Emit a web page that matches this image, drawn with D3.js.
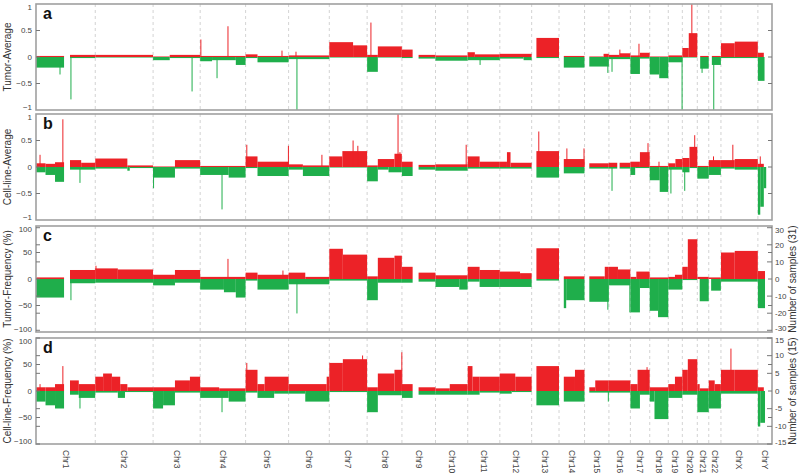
<!DOCTYPE html>
<html><head><meta charset="utf-8">
<script src="https://cdn.jsdelivr.net/npm/d3@7"></script>
<style>body{margin:0;background:#fff}svg{display:block;font-family:Arial,"Liberation Sans",sans-serif}</style>
</head><body><svg id="c" width="800" height="476"></svg>
<script>
// ---------- DATA ----------
const chromosomes = ["Chr1","Chr2","Chr3","Chr4","Chr5","Chr6","Chr7","Chr8","Chr9","Chr10","Chr11","Chr12","Chr13","Chr14","Chr15","Chr16","Chr17","Chr18","Chr19","Chr20","Chr21","Chr22","ChrX","ChrY"];
const chromLengthMb = [249.25,243.2,198.0,191.2,180.9,171.1,159.1,146.4,141.2,135.5,135.0,133.9,115.2,107.3,102.5,90.4,81.2,78.1,59.1,63.0,48.1,51.3,155.3,59.4];

// segments per chromosome: [startMb, endMb, value]
const tumorAvgGain = [
 [[0,118,0.02],[143,249,0.04]],[[0,243,0.04]],[[0,70,0.01],[70,198,0.04]],[[0,191,0.02]],
 [[0,50,0.05],[50,181,0.02]],[[0,171,0.03]],[[0,100,0.28],[100,159,0.22]],[[0,45,0.04],[45,146,0.2]],
 [[0,45,0.14],[70,141,0.04]],[[0,135,0.03]],[[0,30,0.09],[30,135,0.05]],[[0,134,0.06]],
 [[20,115,0.36]],[[20,107,0.02]],[[20,80,0.01],[80,102,0.06]],[[0,45,0.04],[45,90,0.07]],
 [[0,40,0.03],[40,81,0.08]],[[0,78,0.01]],[[0,59,0.03]],[[0,27,0.17],[27,63,0.45]],
 [[12,48,0.02]],[[13,51,0.02]],[[0,58,0.26],[58,155,0.29]],[[0,25,0.08]]];
const tumorAvgLoss = [
 [[0,118,-0.2],[143,249,-0.02]],[[0,243,-0.01]],[[0,70,-0.06],[70,198,-0.02]],[[0,50,-0.08],[50,150,-0.06],[150,191,-0.15]],
 [[0,50,-0.02],[50,181,-0.1]],[[0,171,-0.04]],[[0,159,-0.01]],[[0,45,-0.28],[45,146,-0.01]],
 [[0,45,-0.02],[70,141,-0.03]],[[0,135,-0.07]],[[0,135,-0.06]],[[0,100,-0.03],[100,134,-0.06]],
 [[20,115,-0.02]],[[20,107,-0.2]],[[20,102,-0.18]],[[0,90,-0.04]],
 [[0,40,-0.32],[40,81,-0.03]],[[0,40,-0.33],[40,78,-0.4]],[[0,59,-0.1]],[[0,63,-0.01]],
 [[12,48,-0.22]],[[13,51,-0.15]],[[0,155,-0.02]],[[0,28,-0.45]]];
const tumorAvgSpikes = [[0,147,-0.8],[0,101,-0.33],[2,164,-0.65],[3,3,0.33],[3,117,0.58],[3,71,-0.4],[4,153,0.12],
 [5,35,-1.0],[5,31,0.1],[7,16,0.65],[10,52,-0.15],[14,98,-0.3],[15,46,0.14],[15,13,-0.28],[16,36,0.25],[18,58,-1.0],[19,40,1.0],[21,21,-1.0],[20,20,-0.3]];

const cellAvgGain = [
 [[0,40,0.07],[40,80,0.06],[80,118,0.09],[143,190,0.13],[190,249,0.08]],[[0,135,0.16],[135,243,0.03]],[[0,92,0.01],[92,198,0.13]],[[0,191,0.02]],
 [[0,50,0.2],[50,181,0.1]],[[0,60,0.05],[60,171,0.03]],[[0,55,0.2],[55,159,0.3]],[[0,45,0.03],[45,115,0.15],[115,146,0.25]],
 [[0,45,0.1],[70,141,0.04]],[[0,135,0.05]],[[0,50,0.2],[50,135,0.1]],[[0,30,0.1],[30,45,0.28],[45,134,0.08]],
 [[20,115,0.3]],[[20,107,0.15]],[[20,102,0.07]],[[0,35,0.08],[45,90,0.08]],
 [[0,40,0.1],[40,81,0.28]],[[0,78,0.02]],[[0,30,0.07],[30,59,0.15]],[[0,30,0.17],[30,63,0.38]],
 [[0,48,0.02]],[[0,51,0.13]],[[0,58,0.13],[58,155,0.15]],[[0,25,0.06]]];
const cellAvgLoss = [
 [[0,40,-0.1],[40,80,-0.15],[80,118,-0.28],[143,249,-0.05]],[[0,135,-0.03],[135,145,-0.07],[145,243,-0.02]],[[0,92,-0.2],[92,198,-0.03]],[[0,120,-0.15],[120,191,-0.2]],
 [[0,50,-0.02],[50,181,-0.17]],[[0,60,-0.05],[60,171,-0.17]],[[0,159,-0.01]],[[0,45,-0.27],[45,90,-0.05],[90,146,-0.1]],
 [[0,45,-0.17],[70,141,-0.05]],[[0,135,-0.07]],[[0,135,-0.03]],[[0,134,-0.03]],
 [[20,115,-0.2]],[[20,107,-0.12]],[[20,102,-0.03]],[[0,35,-0.03],[45,90,-0.03]],
 [[0,20,-0.15],[20,81,-0.02]],[[0,42,-0.25],[42,78,-0.47]],[[0,59,-0.05]],[[0,30,-0.1],[30,63,-0.02]],
 [[0,48,-0.22]],[[0,51,-0.15]],[[0,58,-0.03],[58,155,-0.05]],[[0,10,-0.9],[10,25,-0.75],[25,35,-0.4]]];
const cellAvgSpikes = [[0,17,0.23],[0,113,0.9],[0,185,-0.3],[2,2,-0.4],[3,92,-0.8],[4,5,0.42],[4,180,0.4],[5,140,0.23],
 [6,100,0.5],[6,120,0.4],[7,130,1.0],[7,138,0.28],[9,129,0.42],[12,30,0.67],[13,33,0.35],[13,105,0.35],[15,13,-0.45],
 [16,74,0.45],[17,39,0.1],[18,11,-0.5],[19,52,0.6],[19,10,-0.45],[21,20,0.2],[22,50,0.42],[23,10,0.2]];

const tumorFreqGain = [
 [[0,118,3],[143,249,17]],[[0,95,20],[95,243,18]],[[0,92,8],[92,198,17]],[[0,191,4]],
 [[0,50,12],[50,181,8]],[[0,70,12],[70,171,4]],[[0,57,57],[57,159,46]],[[0,45,5],[45,115,40],[115,146,44]],
 [[0,45,23],[70,141,12]],[[0,135,7]],[[0,50,23],[50,135,17]],[[0,85,14],[85,134,11]],
 [[20,115,58]],[[20,107,5]],[[20,85,5],[85,102,23]],[[0,38,23],[38,90,18]],
 [[0,25,4],[25,81,14]],[[0,78,3]],[[0,28,4],[28,59,8]],[[0,23,23],[23,63,75]],
 [[0,48,4]],[[0,51,3]],[[0,58,50],[58,155,53]],[[0,30,15]]];
const tumorFreqLoss = [
 [[0,118,-35],[143,249,-8]],[[0,243,-7]],[[0,92,-12],[92,198,-7]],[[0,100,-20],[100,150,-25],[150,191,-35]],
 [[0,50,-3],[50,181,-20]],[[0,171,-10]],[[0,159,-3]],[[0,45,-40],[45,146,-7]],
 [[0,45,-7],[70,141,-5]],[[0,100,-15],[100,135,-20]],[[0,50,-5],[50,135,-15]],[[0,134,-15]],
 [[20,115,-3]],[[20,30,-55],[30,107,-40]],[[20,102,-43]],[[0,90,-12]],
 [[0,40,-63],[40,81,-17]],[[0,35,-60],[35,78,-72]],[[0,59,-20]],[[0,63,-2]],
 [[10,48,-42]],[[10,51,-22]],[[0,155,-5]],[[0,30,-55]]];
const tumorFreqSpikes = [[0,147,-40],[1,3,25],[3,117,38],[4,157,16],[5,35,-65],[14,98,-58],[15,88,-63]];

const cellFreqGain = [
 [[0,40,7],[40,80,7],[80,118,13],[143,180,20],[180,249,13]],[[0,33,27],[33,70,33],[70,105,27],[105,135,13],[135,243,7]],[[0,92,7],[92,155,20],[155,198,27]],[[0,80,7],[80,191,5]],
 [[0,50,40],[50,80,13],[80,181,27]],[[0,160,13],[160,171,27]],[[0,57,53],[57,159,60]],[[0,45,7],[45,115,33],[115,146,40]],
 [[0,45,13],[70,141,7]],[[0,60,5],[60,135,13]],[[0,20,47],[20,50,27],[50,135,27]],[[0,65,33],[65,134,27]],
 [[20,115,47]],[[20,67,27],[67,107,40]],[[20,45,7],[45,102,20]],[[0,90,20]],
 [[0,30,13],[30,81,40]],[[0,78,7]],[[0,28,13],[28,59,27]],[[0,23,40],[23,63,60]],
 [[0,10,13],[10,48,5]],[[0,25,20],[25,51,13]],[[0,58,40],[58,155,40]],[[0,25,7]]];
const cellFreqLoss = [
 [[0,40,-20],[40,80,-27],[80,118,-33],[143,180,-7],[180,249,-13]],[[0,95,-3],[95,125,-13],[125,243,-2]],[[0,42,-33],[42,92,-27],[92,198,-3]],[[0,120,-13],[120,191,-20]],
 [[0,50,-3],[50,120,-13],[120,181,-5]],[[0,70,-5],[70,171,-20]],[[0,159,-2]],[[0,45,-40],[45,146,-8]],
 [[0,45,-13],[70,141,-7]],[[0,135,-7]],[[0,50,-7],[50,135,-3]],[[0,50,-5],[50,134,-2]],
 [[20,115,-27]],[[20,107,-20]],[[20,102,-3]],[[0,90,-3]],
 [[0,40,-33],[40,81,-7]],[[0,20,-20],[20,78,-53]],[[0,59,-13]],[[0,63,-7]],
 [[0,48,-40]],[[0,51,-33]],[[0,155,-5]],[[0,10,-67],[10,30,-60]]];
const cellFreqSpikes = [[0,17,13],[0,113,47],[0,185,-33],[3,92,-40],[4,5,53],[6,140,67],[7,146,73],[14,100,-20],[22,42,80],[16,70,45]];

const panelLetters = ["a","b","c","d"];
const panelTitles = ["Tumor-Average","Cell-line-Average","Tumor-Frequency (%)","Cell-line-Frequency (%)"];
const leftTicksAvg = [-1,-0.5,0,0.5,1];
const leftTicksFreq = [-100,-50,0,50,100];
const rightSampleCounts = [null,null,31,15];
const rightTicksC = [-30,-20,-10,0,10,20,30];
const rightTicksD = [-15,-10,-5,0,5,10,15];

// ---------- DRAW ----------
const RED="#ec2227", GREEN="#1fae4b";
const svg = d3.select("#c");
const L=36, R=772;
const offsets = d3.cumsum([0].concat(chromLengthMb));
const total = offsets[offsets.length-1];
const x = d3.scaleLinear().domain([0,total]).range([L,R]);
const tops = [4,114,226,338], H=106;

const panels = [
 {gain:tumorAvgGain, loss:tumorAvgLoss, spikes:tumorAvgSpikes, dom:1, ticks:leftTicksAvg},
 {gain:cellAvgGain, loss:cellAvgLoss, spikes:cellAvgSpikes, dom:1, ticks:leftTicksAvg},
 {gain:tumorFreqGain, loss:tumorFreqLoss, spikes:tumorFreqSpikes, dom:100, ticks:leftTicksFreq, rticks:rightTicksC},
 {gain:cellFreqGain, loss:cellFreqLoss, spikes:cellFreqSpikes, dom:100, ticks:leftTicksFreq, rticks:rightTicksD}
];

panels.forEach((p,i)=>{
  const top=tops[i], bot=top+H;
  const y = d3.scaleLinear().domain([-p.dom,p.dom]).range([bot,top]);
  const g = svg.append("g");
  g.selectAll("line.sep").data(offsets.slice(1,-1)).join("line")
    .attr("x1",d=>x(d)).attr("x2",d=>x(d)).attr("y1",top).attr("y2",bot)
    .attr("stroke","#c8c8c8").attr("stroke-width",0.8).attr("stroke-dasharray","3,3");
  const segs = (arr)=>arr.flatMap((c,ci)=>c.map(s=>({s:offsets[ci]+s[0], e:offsets[ci]+Math.min(s[1],chromLengthMb[ci]), v:s[2]})));
  [[p.gain,RED],[p.loss,GREEN]].forEach(([arr,col])=>{
    g.selectAll(null).data(segs(arr)).join("rect")
      .attr("x",d=>x(d.s)).attr("width",d=>Math.max(0.5,x(d.e)-x(d.s)))
      .attr("y",d=>Math.min(y(d.v),y(0))).attr("height",d=>Math.abs(y(d.v)-y(0)))
      .attr("fill",col);
  });
  g.selectAll(null).data(p.spikes).join("line")
    .attr("x1",d=>x(offsets[d[0]]+d[1])).attr("x2",d=>x(offsets[d[0]]+d[1]))
    .attr("y1",y(0)).attr("y2",d=>y(d[2]))
    .attr("stroke",d=>d[2]>0?RED:GREEN).attr("stroke-width",1);
  g.append("rect").attr("x",L).attr("y",top).attr("width",R-L).attr("height",H)
    .attr("fill","none").attr("stroke","#a0a0a0").attr("stroke-width",1.6);
  const yl = p.ticks;
  g.selectAll(null).data(yl.slice(1,-1)).join("line")
    .attr("x1",L).attr("x2",L+4).attr("y1",d=>y(d)).attr("y2",d=>y(d)).attr("stroke","#777");
  g.selectAll(null).data(yl.slice(1,-1)).join("line")
    .attr("x1",R-4).attr("x2",R).attr("y1",d=>y(d)).attr("y2",d=>y(d)).attr("stroke","#777");
  g.selectAll(null).data(yl).join("text")
    .attr("x",L-4).attr("y",d=>y(d)+(d===p.dom?3:d===-p.dom?-3:0)).attr("dy","0.35em").attr("text-anchor","end")
    .attr("font-size",8).attr("fill","#444").text(d=>d3.format("")(d));
  if(p.rticks){
    const n=rightSampleCounts[i];
    const yr = d3.scaleLinear().domain([-n,n]).range([bot,top]);
    g.selectAll(null).data(p.rticks.filter(d=>d!==0)).join("line")
      .attr("x1",R-5).attr("x2",R).attr("y1",d=>yr(d)).attr("y2",d=>yr(d)).attr("stroke","#777");
    g.selectAll(null).data(p.rticks.filter(d=>d!==0)).join("line")
      .attr("x1",L).attr("x2",L+4).attr("y1",d=>yr(d)).attr("y2",d=>yr(d)).attr("stroke","#777");
    const rmax = d3.max(p.rticks);
    g.selectAll(null).data(p.rticks).join("text")
      .attr("x",R+3).attr("y",d=>yr(d)+(d===rmax?2:d===-rmax?-2:0)).attr("dy","0.35em").attr("text-anchor","start")
      .attr("font-size",8).attr("fill","#444").text(d=>d);
    g.append("text").attr("transform",`translate(792,${(top+bot)/2}) rotate(-90)`)
      .attr("text-anchor","middle").attr("dy","0.35em").attr("font-size",10).attr("fill","#333")
      .text(`Number of samples (${n})`);
  }
  g.append("text").attr("transform",`translate(7,${(top+bot)/2}) rotate(-90)`)
    .attr("text-anchor","middle").attr("dy","0.35em").attr("font-size",10).attr("fill","#333")
    .text(panelTitles[i]);
  g.append("text").attr("x",43).attr("y",top+15).attr("font-size",16).attr("font-weight","bold")
    .attr("fill","#111").text(panelLetters[i]);
});

svg.selectAll("text.chr").data(chromosomes).join("text")
  .attr("transform",(d,i)=>`translate(${x(offsets[i]+chromLengthMb[i]/2)},450) rotate(90)`)
  .attr("dy","0.35em").attr("font-size",8.5).attr("fill","#444").text(d=>d);
</script></body></html>
